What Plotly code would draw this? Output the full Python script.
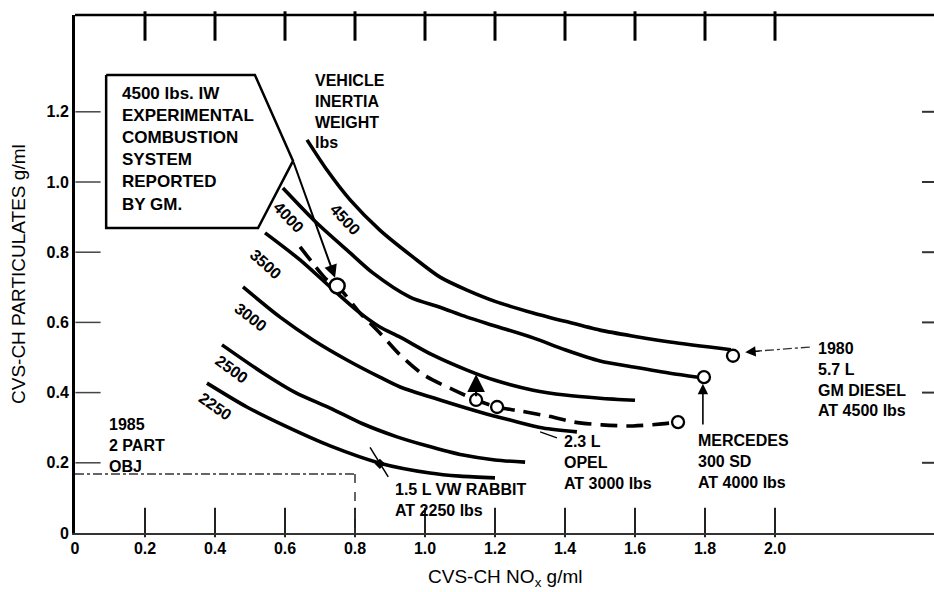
import plotly.graph_objects as go

# ---- data (x = CVS-CH NOx g/mi, y = CVS-CH particulates g/mi)
w4500_x = [0.663, 0.72, 0.786, 0.871, 0.966, 1.043, 1.12, 1.2, 1.309, 1.4, 1.5, 1.6, 1.7, 1.874]
w4500_y = [1.120, 1.034, 0.949, 0.863, 0.786, 0.729, 0.692, 0.660, 0.627, 0.603, 0.578, 0.560, 0.544, 0.522]

w4000_x = [0.594, 0.691, 0.786, 0.851, 0.957, 1.043, 1.12, 1.2, 1.309, 1.4, 1.5, 1.6, 1.7, 1.78]
w4000_y = [0.983, 0.883, 0.798, 0.741, 0.672, 0.643, 0.615, 0.590, 0.556, 0.522, 0.490, 0.472, 0.455, 0.444]

w3500_x = [0.543, 0.643, 0.729, 0.814, 0.871, 0.929, 1.02, 1.12, 1.2, 1.309, 1.4, 1.5, 1.6]
w3500_y = [0.855, 0.778, 0.701, 0.627, 0.587, 0.558, 0.508, 0.464, 0.435, 0.407, 0.393, 0.384, 0.378]

w3000_x = [0.48, 0.586, 0.68, 0.777, 0.871, 0.929, 1.043, 1.166, 1.243, 1.337, 1.434]
w3000_y = [0.701, 0.615, 0.550, 0.493, 0.444, 0.416, 0.379, 0.342, 0.322, 0.299, 0.288]

w2500_x = [0.42, 0.537, 0.63, 0.729, 0.82, 0.92, 1.0, 1.109, 1.2, 1.286]
w2500_y = [0.536, 0.456, 0.400, 0.356, 0.312, 0.274, 0.250, 0.222, 0.208, 0.202]

w2250_x = [0.377, 0.491, 0.6, 0.729, 0.871, 1.014, 1.1, 1.2]
w2250_y = [0.427, 0.359, 0.305, 0.248, 0.199, 0.171, 0.162, 0.157]

# GM experimental 4500 lb trajectory (dashed)
gm_x = [0.643, 0.677, 0.72, 0.749, 0.814, 0.871, 0.929, 0.997, 1.083, 1.146, 1.206, 1.269,
        1.351, 1.426, 1.506, 1.594, 1.677, 1.723]
gm_y = [0.815, 0.772, 0.721, 0.704, 0.627, 0.570, 0.507, 0.450, 0.407, 0.379, 0.359, 0.348,
        0.333, 0.316, 0.308, 0.305, 0.311, 0.316]

# vehicle data points (open circles)
gm_pt_x = [0.749]
gm_pt_y = [0.704]
pts_x = [1.146, 1.206, 1.723, 1.797, 1.88]
pts_y = [0.379, 0.359, 0.316, 0.444, 0.505]

# 1985 standard (particulates, NOx)
std_pm = 0.168
std_nox = 0.8

# curve labels
lab_text = ["4500", "4000", "3500", "3000", "2500", "2250"]
lab_x = [0.771, 0.611, 0.546, 0.503, 0.449, 0.400]
lab_y = [0.892, 0.900, 0.766, 0.615, 0.467, 0.359]
lab_ang = [47, 46, 42, 38, 36, 35]

# callout box outline
box_x = [0.089, 0.514, 0.623, 0.523, 0.089, 0.089]
box_y = [1.305, 1.305, 1.060, 0.869, 0.869, 1.305]

tick_vals_x = [0, 0.2, 0.4, 0.6, 0.8, 1.0, 1.2, 1.4, 1.6, 1.8, 2.0]
tick_text_x = ["0", "0.2", "0.4", "0.6", "0.8", "1.0", "1.2", "1.4", "1.6", "1.8", "2.0"]
tick_vals_y = [0, 0.2, 0.4, 0.6, 0.8, 1.0, 1.2]
tick_text_y = ["0", "0.2", "0.4", "0.6", "0.8", "1.0", "1.2"]

PLOT_W = 859
PLOT_H = 518
X_PER_PX = 1 / 350
Y_PER_PX = 1 / 351
X_MAX = PLOT_W * X_PER_PX
Y_MAX = PLOT_H * Y_PER_PX

FONT = "Liberation Sans, Arial, sans-serif"
INK = "#000000"

fig = go.Figure()

# ---- frame ticks drawn as line-shaped markers at the tick values
xt = tick_vals_x[1:]
yt = tick_vals_y[1:]
fig.add_trace(go.Scatter(x=xt, y=[Y_MAX - 11 * Y_PER_PX] * len(xt), mode="markers", cliponaxis=False,
                         marker=dict(symbol="line-ns", size=21, color=INK, line=dict(color=INK, width=3)),
                         hoverinfo="skip", showlegend=False))
fig.add_trace(go.Scatter(x=xt, y=[10.5 * Y_PER_PX] * len(xt), mode="markers", cliponaxis=False,
                         marker=dict(symbol="line-ns", size=21, color="#222",
                                     line=dict(color="#222", width=2)),
                         hoverinfo="skip", showlegend=False))
fig.add_trace(go.Scatter(x=[13 * X_PER_PX] * len(yt), y=yt, mode="markers", cliponaxis=False,
                         marker=dict(symbol="line-ew", size=18, color="#444",
                                     line=dict(color="#444", width=1.5)),
                         hoverinfo="skip", showlegend=False))
fig.add_trace(go.Scatter(x=[X_MAX - 5 * X_PER_PX] * len(yt), y=yt, mode="markers", cliponaxis=False,
                         marker=dict(symbol="line-ew", size=10, color="#333",
                                     line=dict(color="#333", width=2)),
                         hoverinfo="skip", showlegend=False))

# callout box
fig.add_trace(go.Scatter(x=box_x, y=box_y, mode="lines", fill="toself", fillcolor="white",
                         line=dict(color=INK, width=2.5), hoverinfo="skip", showlegend=False))

# standard lines
fig.add_trace(go.Scatter(x=[0, std_nox], y=[std_pm, std_pm], mode="lines",
                         line=dict(color="#333", width=1.5, dash="dashdot"), showlegend=False))
fig.add_trace(go.Scatter(x=[std_nox, std_nox], y=[std_pm, 0], mode="lines",
                         line=dict(color="#333", width=1.5, dash="dash"), showlegend=False))

for cx, cy in [(w4500_x, w4500_y), (w4000_x, w4000_y), (w3500_x, w3500_y),
               (w3000_x, w3000_y), (w2500_x, w2500_y), (w2250_x, w2250_y)]:
    fig.add_trace(go.Scatter(x=cx, y=cy, mode="lines",
                             line=dict(color=INK, width=3.6, shape="spline", smoothing=0.8),
                             showlegend=False))

fig.add_trace(go.Scatter(x=gm_x, y=gm_y, mode="lines",
                         line=dict(color=INK, width=3.6, dash="17px,9px", shape="spline", smoothing=0.8),
                         showlegend=False))

# leaders
fig.add_trace(go.Scatter(x=[0.843, 0.895], y=[0.244, 0.160], mode="lines",
                         line=dict(color=INK, width=1.5), showlegend=False))
fig.add_trace(go.Scatter(x=[0.871], y=[0.197], mode="markers",
                         marker=dict(symbol="diamond", size=8, color=INK), showlegend=False))
fig.add_trace(go.Scatter(x=[1.329, 1.377], y=[0.288, 0.271], mode="lines",
                         line=dict(color=INK, width=1.2), showlegend=False))
fig.add_trace(go.Scatter(x=[1.92, 2.103], y=[0.516, 0.530], mode="lines",
                         line=dict(color="#333", width=1.3, dash="dashdot"), showlegend=False))

fig.add_trace(go.Scatter(x=gm_pt_x, y=gm_pt_y, mode="markers",
                         marker=dict(symbol="circle", size=15, color="white",
                                     line=dict(color=INK, width=2.5)),
                         showlegend=False))
fig.add_trace(go.Scatter(x=pts_x, y=pts_y, mode="markers",
                         marker=dict(symbol="circle", size=12, color="white",
                                     line=dict(color=INK, width=2.3)),
                         showlegend=False))

ann = []
for t, x, y, a in zip(lab_text, lab_x, lab_y, lab_ang):
    ann.append(dict(x=x, y=y, text="<b>%s</b>" % t, textangle=a, showarrow=False,
                    font=dict(family=FONT, size=16, color=INK)))


def block(x, y, lines, size=16):
    return dict(x=x, y=y, xref="x", yref="y", text="<br>".join("<b>%s</b>" % s for s in lines),
                showarrow=False, align="left", xanchor="left", yanchor="middle",
                font=dict(family=FONT, size=size, color=INK))


ann.append(block(0.129, 1.095, ["4500 lbs. IW", "EXPERIMENTAL", "COMBUSTION", "SYSTEM", "REPORTED", "BY GM."], 17))
ann.append(block(0.680, 1.202, ["VEHICLE", "INERTIA", "WEIGHT", "lbs"], 16))
ann.append(block(0.091, 0.248, ["1985", "2 PART", "OBJ"], 16))
ann.append(block(0.909, 0.094, ["1.5 L VW RABBIT", "AT 2250 lbs"], 16))
ann.append(block(1.391, 0.201, ["2.3 L", "OPEL", "AT 3000 lbs"], 16))
ann.append(block(1.774, 0.205, ["MERCEDES", "300 SD", "AT 4000 lbs"], 16))
ann.append(block(2.117, 0.436, ["1980", "5.7 L", "GM DIESEL", "AT 4500 lbs"], 16))

# arrows
ann.append(dict(x=0.743, y=0.727, ax=0.623, ay=1.060, xref="x", yref="y", axref="x", ayref="y",
                showarrow=True, arrowhead=2, arrowsize=1.3, arrowwidth=2, arrowcolor=INK, text=""))
ann.append(dict(x=1.146, y=0.452, ax=1.146, ay=0.385, xref="x", yref="y", axref="x", ayref="y",
                showarrow=True, arrowhead=2, arrowsize=1.6, arrowwidth=2.2, arrowcolor=INK, text=""))
ann.append(dict(x=1.794, y=0.425, ax=1.794, ay=0.305, xref="x", yref="y", axref="x", ayref="y",
                showarrow=True, arrowhead=2, arrowsize=1.3, arrowwidth=1.6, arrowcolor=INK, text=""))
ann.append(dict(x=1.915, y=0.515, ax=1.96, ay=0.519, xref="x", yref="y", axref="x", ayref="y",
                showarrow=True, arrowhead=2, arrowsize=1.3, arrowwidth=1.6, arrowcolor=INK, text=""))

# axis titles
ann.append(dict(x=0.5, y=0, xref="paper", yref="paper", yshift=-45, yanchor="middle",
                text="CVS-CH NO<sub>x</sub> g/ml", showarrow=False,
                font=dict(family=FONT, size=19, color=INK)))
ann.append(dict(x=0, y=0.5, xref="paper", yref="paper", xshift=-57, xanchor="center",
                text="CVS-CH PARTICULATES g/ml", textangle=-90, showarrow=False,
                font=dict(family=FONT, size=19, color=INK)))

shapes = [dict(type="line", xref="paper", yref="paper", x0=0, x1=1, y0=1, y1=1,
               line=dict(color=INK, width=2.5))]

fig.update_layout(
    template="none",
    width=934, height=592,
    margin=dict(l=75, r=0, t=15, b=59),
    paper_bgcolor="white", plot_bgcolor="white",
    showlegend=False,
    annotations=ann,
    shapes=shapes,
    xaxis=dict(range=[0, X_MAX], showgrid=False, zeroline=False, showline=True, linecolor="#333",
               linewidth=1.5, ticks="", tickmode="array", tickvals=tick_vals_x,
               ticktext=["<b>%s</b>" % t for t in tick_text_x],
               tickfont=dict(family=FONT, size=16, color=INK)),
    yaxis=dict(range=[0, Y_MAX], showgrid=False, zeroline=False, showline=True, linecolor=INK,
               linewidth=3, ticks="", tickmode="array", tickvals=tick_vals_y,
               ticktext=["<b>%s</b>" % t for t in tick_text_y],
               tickfont=dict(family=FONT, size=16, color=INK)),
)

fig.write_html("out.html")
